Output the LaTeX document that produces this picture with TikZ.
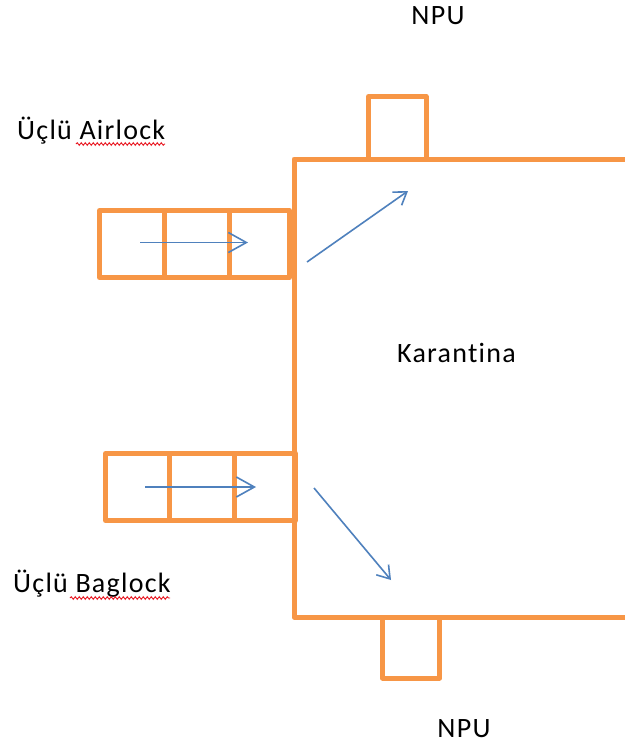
\documentclass[tikz,border=0pt]{standalone}
\usepackage{fontspec}
\setmainfont[LetterSpace=4.5,Ligatures=NoCommon]{Carlito}
\usetikzlibrary{arrows.meta,decorations.pathmorphing}
\definecolor{wallorange}{HTML}{F79646}
\definecolor{flowblue}{HTML}{4F81BD}
\definecolor{spellred}{HTML}{E8141E}
\tikzset{
  wall/.style={draw=wallorange,line width=5bp,line join=round},
  flow/.style={draw=flowblue,line width=1.6bp},
  lbl/.style={inner sep=0pt,anchor=base west,font=\fontsize{28bp}{30bp}\selectfont},
  squiggle/.style={draw=spellred,line width=0.9bp,decorate,decoration={snake,amplitude=1.3bp,segment length=4bp}}
}
\begin{document}
\begin{tikzpicture}[x=1bp,y=-1bp]
\useasboundingbox (0,0) rectangle (625,745);
\fill[white] (0,0) rectangle (625,745);
% quarantine room (open to the right)
\draw[wall] (625,159) -- (294,159) -- (294,617) -- (625,617);
% NPU boxes
\draw[wall] (368.5,159) -- (368.5,96.5) -- (426,96.5) -- (426,159);
\draw[wall] (382.5,617) -- (382.5,678) -- (439.5,678) -- (439.5,617);
% triple airlock
\draw[wall] (99.5,210.5) rectangle (289.5,277.5);
\draw[wall] (164.5,210.5) -- (164.5,277.5);
\draw[wall] (229.5,210.5) -- (229.5,277.5);
% triple baglock
\draw[wall] (105.5,453.5) rectangle (295.5,520.5);
\draw[wall] (169.5,453.5) -- (169.5,520.5);
\draw[wall] (234.5,453.5) -- (234.5,520.5);
% arrows
\coordinate (a1) at (140,242.5);
\coordinate (a2) at (248,242.5);
\coordinate (b1) at (145,487);
\coordinate (b2) at (256,487);
\coordinate (c1) at (307,262);
\coordinate (c2) at (408,191);
\coordinate (d1) at (314,488);
\coordinate (d2) at (391,580);
\draw[flow,-{Straight Barb[length=18bp,width=20bp,line width=1.6bp]}] (a1) -- (a2);
\draw[flow,-{Straight Barb[length=18bp,width=20bp,line width=1.6bp]}] (b1) -- (b2);
\draw[flow,-{Straight Barb[length=12bp,width=16bp,line width=1.6bp]}] (c1) -- (c2);
\draw[flow,-{Straight Barb[length=12bp,width=16bp,line width=1.6bp]}] (d1) -- (d2);
% labels
\node[lbl,anchor=base] (npuTop) at (438,25) {NPU};
\node[lbl,anchor=base] (npuBot) at (464,737) {NPU};
\node[lbl] (airlock) at (17,139) {Üçlü Airlock};
\node[lbl] (baglock) at (13,592) {Üçlü Baglock};
\node[lbl] (karantina) at (397,362) {Karantina};
% spell-check squiggles
\coordinate (s1) at (76,144);
\coordinate (s2) at (165,144);
\coordinate (s3) at (70,598);
\coordinate (s4) at (170,598);
\draw[squiggle] (s1) -- (s2);
\draw[squiggle] (s3) -- (s4);
\end{tikzpicture}
\end{document}
